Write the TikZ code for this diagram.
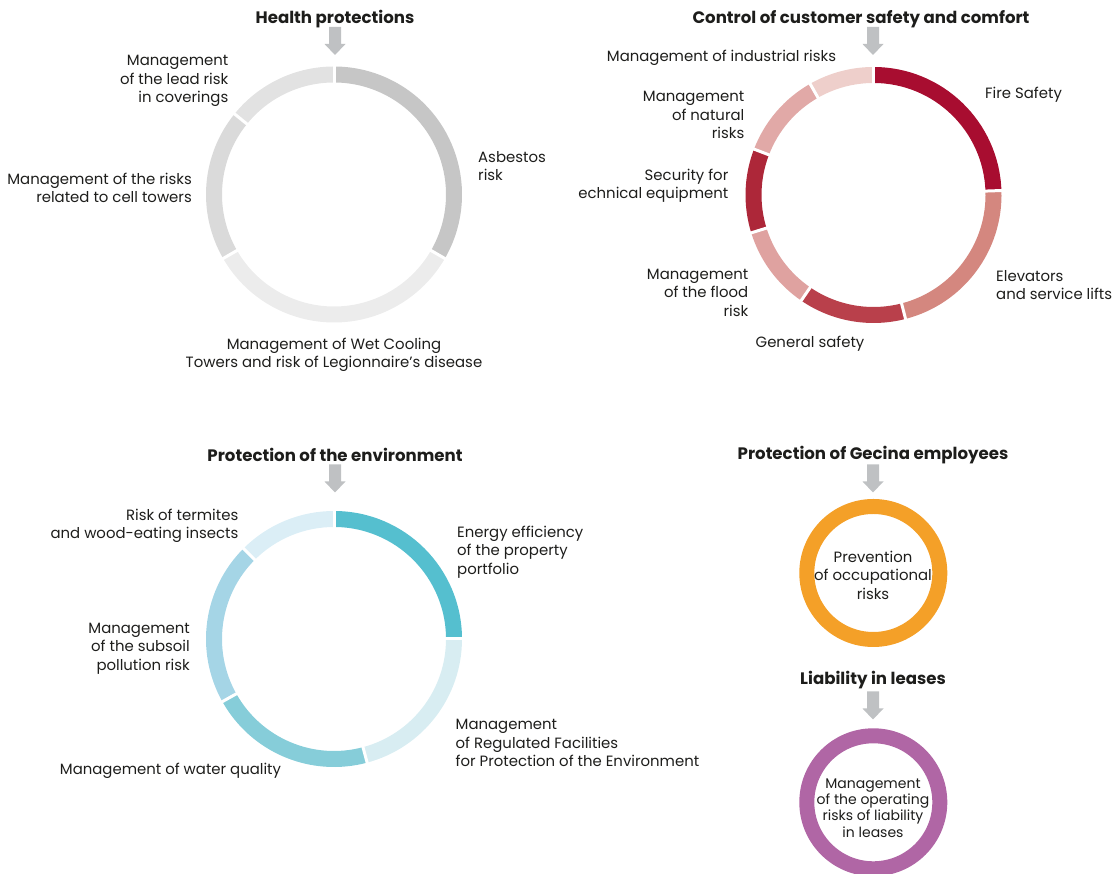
\documentclass[tikz,border=0pt]{standalone}
\usepackage{fontspec}
\setmainfont{Poppins}
\definecolor{txt}{HTML}{1D1D1B}
\definecolor{arrowgray}{HTML}{BFC1C3}
\definecolor{gA}{HTML}{C6C6C6}
\definecolor{gB}{HTML}{ECECEC}
\definecolor{gC}{HTML}{DADADA}
\definecolor{gD}{HTML}{E2E2E2}
\definecolor{rA}{HTML}{A80D30}
\definecolor{rB}{HTML}{D4877F}
\definecolor{rC}{HTML}{B9404B}
\definecolor{rD}{HTML}{DFA2A0}
\definecolor{rE}{HTML}{AD2739}
\definecolor{rF}{HTML}{E1A9A7}
\definecolor{rG}{HTML}{EECFCB}
\definecolor{bA}{HTML}{55BFCF}
\definecolor{bB}{HTML}{D8EDF2}
\definecolor{bC}{HTML}{86CDD9}
\definecolor{bD}{HTML}{A5D5E6}
\definecolor{bE}{HTML}{DBEEF6}
\definecolor{orng}{HTML}{F4A028}
\definecolor{purp}{HTML}{B066A5}
\begin{document}
\begin{tikzpicture}[x=1pt,y=1pt,
  lbl/.style={font=\fontsize{14.9}{18.5}\selectfont, inner sep=0pt, text=txt},
  small/.style={font=\fontsize{14}{16.2}\selectfont, inner sep=0pt, text=txt, align=center},
  head/.style={font=\bfseries\fontsize{16.6}{18}\selectfont, inner sep=0pt, text=txt},
  seg/.style={line width=16pt},
  gapline/.style={white, line width=3pt},
  garrow/.pic={\fill[arrowgray] (-6,11) -- (-6,28) -- (6,28) -- (6,11) -- (10.5,11) -- (0,0) -- (-10.5,11) -- cycle;}
]
\useasboundingbox (0,0) rectangle (1116,874);
% centres
\coordinate (c1) at (334,679.5);
\coordinate (c2) at (873.5,679);
\coordinate (c3) at (334,235);
\coordinate (c4) at (873.3,301);
\coordinate (c5) at (873.3,71.7);
% ring 1
\foreach \a/\b/\col in {-30/90/gA, -150/-30/gB, 141/210/gC, 90/141/gD}
  \draw[seg,\col] ([shift={(\a:120pt)}]c1) arc[start angle=\a, end angle=\b, radius=120pt];
\foreach \a in {90,-30,-150,141}
  \draw[gapline] ([shift={(\a:108pt)}]c1) -- ([shift={(\a:132pt)}]c1);
% ring 2
\foreach \a/\b/\col in {2/90/rA, -75.5/2/rB, -124.4/-75.5/rC, -162.8/-124.4/rD, 159/197.2/rE, 119.7/159/rF, 90/119.7/rG}
  \draw[seg,\col] ([shift={(\a:120pt)}]c2) arc[start angle=\a, end angle=\b, radius=120pt];
\foreach \a in {90,2,-75.5,-124.4,-162.8,159,119.7}
  \draw[gapline] ([shift={(\a:108pt)}]c2) -- ([shift={(\a:132pt)}]c2);
% ring 3
\foreach \a/\b/\col in {0/90/bA, -75/0/bB, -150.7/-75/bC, 135/209.3/bD, 90/135/bE}
  \draw[seg,\col] ([shift={(\a:120pt)}]c3) arc[start angle=\a, end angle=\b, radius=120pt];
\foreach \a in {90,0,-75,-150.7,135}
  \draw[gapline] ([shift={(\a:108pt)}]c3) -- ([shift={(\a:132pt)}]c3);
% small rings
\draw[orng, line width=15pt] (c4) circle[radius=66.5pt];
\draw[purp, line width=15pt] (c5) circle[radius=66.5pt];
% arrows
\pic at (335,819) {garrow};
\pic at (873,819) {garrow};
\pic at (335,381.5) {garrow};
\pic at (873,381.5) {garrow};
\pic at (873,154.5) {garrow};
% headings
\node[head] (h1) at (335,855) {Health protections};
\node[head] (h2) at (861,855) {Control of customer safety and comfort};
\node[head] (h3) at (335,419) {Protection of the environment};
\node[head] (h4) at (873,419) {Protection of Gecina employees};
\node[head] (h5) at (873,194) {Liability in leases};
% ring 1 labels
\node[lbl, anchor=east, align=right] (t11) at (228.5,792.7) {Management\\of the lead risk\\in coverings};
\node[lbl, anchor=east, align=right] (t12) at (192,686) {Management of the risks\\related to cell towers};
\node[lbl, anchor=west, align=left] (t13) at (478,708) {Asbestos\\risk};
\node[lbl, align=center] (t14) at (334,519) {Management of Wet Cooling\\Towers and risk of Legionnaire’s disease};
% ring 2 labels
\node[lbl] (t21) at (721.5,816) {Management of industrial risks};
\node[lbl, anchor=east, align=right] (t22) at (744.5,758.7) {Management\\of natural\\risks};
\node[lbl, anchor=east, align=right] (t23) at (728.5,688) {Security for\\echnical equipment};
\node[lbl, anchor=east, align=right] (t24) at (748.5,581.5) {Management\\of the flood\\risk};
\node[lbl, anchor=west] (t25) at (985,779) {Fire Safety};
\node[lbl, anchor=west, align=left] (t26) at (996,589) {Elevators\\and service lifts};
\node[lbl] (t27) at (810,530) {General safety};
% ring 3 labels
\node[lbl, anchor=east, align=right] (t31) at (238.5,348) {Risk of termites\\and wood-eating insects};
\node[lbl, anchor=east, align=right] (t32) at (190,225.5) {Management\\of the subsoil\\pollution risk};
\node[lbl] (t33) at (170.5,103) {Management of water quality};
\node[lbl, anchor=west, align=left] (t34) at (457,322) {Energy efficiency\\of the property\\portfolio};
\node[lbl, anchor=west, align=left] (t35) at (455.5,131) {Management\\of Regulated Facilities\\for Protection of the Environment};
% small ring labels
\node[lbl, align=center] (t41) at (873,299) {Prevention\\of occupational\\risks};
\node[small] (t51) at (873,66) {Management\\of the operating\\risks of liability\\in leases};
\end{tikzpicture}
\end{document}
